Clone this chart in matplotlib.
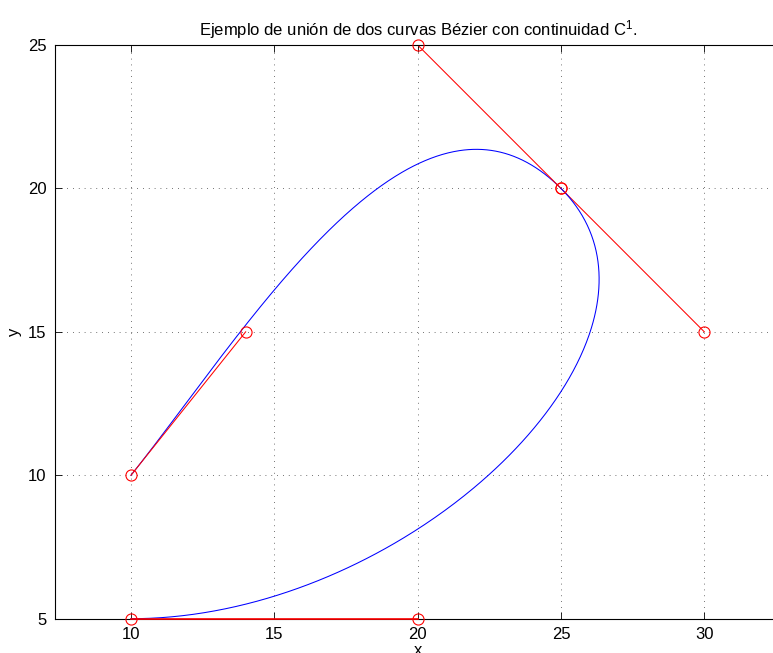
import numpy as np
import matplotlib
matplotlib.use('Agg')
import matplotlib.pyplot as plt

plt.rcParams['font.family'] = ['Liberation Sans', 'DejaVu Sans']
plt.rcParams['mathtext.fontset'] = 'custom'
plt.rcParams['mathtext.rm'] = 'Liberation Sans'
plt.rcParams['mathtext.it'] = 'Liberation Sans'

# control points of the two cubic segments (C1 joint at (25, 20))
curve1_x = [10, 14, 20, 25]
curve1_y = [10, 15, 25, 20]
curve2_x = [25, 30, 20, 10]
curve2_y = [20, 15, 5, 5]


def bezier(px, py, t):
    # cubic Bernstein form
    px = np.asarray(px, float)
    py = np.asarray(py, float)
    b = np.array([(1 - t) ** 3, 3 * t * (1 - t) ** 2, 3 * t ** 2 * (1 - t), t ** 3])
    return px @ b, py @ b


t = np.linspace(0, 1, 400)
bx1, by1 = bezier(curve1_x, curve1_y, t)
bx2, by2 = bezier(curve2_x, curve2_y, t)

fig = plt.figure(figsize=(7.73, 6.53), dpi=100)
ax = fig.add_axes([55 / 773, 34.3 / 653, (780.3 - 55) / 773, (618.7 - 45) / 653])

ax.plot(bx1, by1, color='blue', lw=0.75)
ax.plot(bx2, by2, color='blue', lw=0.75, clip_on=False, zorder=3)

# control polygon legs
ax.plot(curve1_x[:2], curve1_y[:2], color='red', lw=0.75)
ax.plot(curve1_x[2:], curve1_y[2:], color='red', lw=0.75)
ax.plot(curve2_x[:2], curve2_y[:2], color='red', lw=0.75)
ax.plot(curve2_x[2:], curve2_y[2:], color='red', lw=1.2, clip_on=False, zorder=4)
ax.plot(curve1_x + curve2_x, curve1_y + curve2_y, 'o', mfc='none', mec='red',
        ms=8, mew=0.8, clip_on=False, zorder=5)

ax.set_xlim(7.35, 32.65)
ax.set_ylim(5, 25)
ax.set_xticks([10, 15, 20, 25, 30])
ax.set_yticks([5, 10, 15, 20, 25])
ax.tick_params(direction='in', length=5, width=0.6, labelsize=12, top=True, right=True, pad=6)
for s in ax.spines.values():
    s.set_linewidth(0.8)
ax.grid(True, color='#444444', linestyle=(0, (1, 6)), lw=0.6)

ax.set_xlabel('x', fontsize=12, labelpad=1)
ax.set_ylabel('y', fontsize=12, labelpad=4)
ax.set_title('Ejemplo de unión de dos curvas Bézier con continuidad C$^{1}$.', fontsize=12, pad=7)

fig.savefig('out.png', dpi=100)
